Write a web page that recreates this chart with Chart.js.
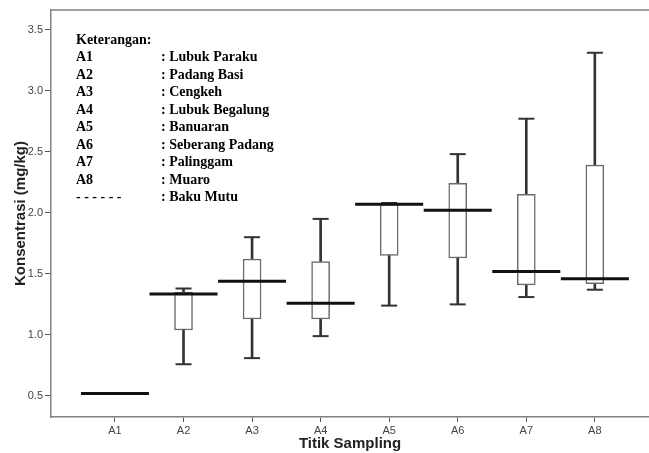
<!DOCTYPE html>
<html>
<head>
<meta charset="utf-8">
<script src="https://cdn.jsdelivr.net/npm/chart.js@4.4.0/dist/chart.umd.min.js"></script>
<style>
  html, body { margin: 0; padding: 0; background: #fff; }
  #wrap { width: 649px; height: 453px; }
</style>
</head>
<body>
<div id="wrap"><canvas id="myChart"></canvas></div>
<script>
// data
const categories = ['A1', 'A2', 'A3', 'A4', 'A5', 'A6', 'A7', 'A8'];
const xPos = [1, 2, 3, 4, 5, 6, 7, 8];
const whiskerMin = [null, 0.76, 0.81, 0.99, 1.24, 1.25, 1.31, 1.37];
const q1 = [null, 1.04, 1.13, 1.13, 1.65, 1.63, 1.41, 1.42];
const q3 = [null, 1.35, 1.62, 1.60, 2.07, 2.24, 2.15, 2.39];
const whiskerMax = [null, 1.38, 1.80, 1.95, 2.08, 2.48, 2.77, 3.31];
const garis = [0.52, 1.335, 1.44, 1.26, 2.07, 2.02, 1.52, 1.46];
const yTicks = [0.5, 1.0, 1.5, 2.0, 2.5, 3.0, 3.5];

const ketKode = ['A1', 'A2', 'A3', 'A4', 'A5', 'A6', 'A7', 'A8', '- - - - - -'];
const ketNama = [': Lubuk Paraku', ': Padang Basi', ': Cengkeh', ': Lubuk Begalung', ': Banuaran',
                 ': Seberang Padang', ': Palinggam', ': Muaro', ': Baku Mutu'];

function pts(arr) {
    return xPos.map((x, i) => arr[i] == null ? null : { x: x, y: arr[i] }).filter(p => p);
}
function ranges(a, b) {
    return xPos.map((x, i) => a[i] == null ? null : { x: x, y: [a[i], b[i]] }).filter(p => p);
}

// kotak keterangan + garis atas bingkai
const keteranganPlugin = {
    id: 'keterangan',
    afterDraw(chart) {
        const ctx = chart.ctx;
        const area = chart.chartArea;
        ctx.save();
        ctx.strokeStyle = '#808080';
        ctx.lineWidth = 1.5;
        ctx.beginPath();
        ctx.moveTo(area.left, area.top);
        ctx.lineTo(area.right, area.top);
        ctx.stroke();

        ctx.fillStyle = '#000';
        ctx.font = 'bold 14px "Liberation Serif", "Times New Roman", serif';
        ctx.textBaseline = 'middle';
        ctx.fillText('Keterangan:', 76, 40);
        for (let i = 0; i < ketKode.length; i++) {
            const y = 57.5 + i * 17.5;
            ctx.fillText(ketKode[i], 76, y);
            ctx.fillText(ketNama[i], 161, y);
        }
        ctx.restore();
    }
};

const ctx = document.getElementById('myChart').getContext('2d');
new Chart(ctx, {
    type: 'bar',
    data: {
        datasets: [
            {
                type: 'scatter',
                label: 'garis',
                data: pts(garis),
                pointStyle: 'line',
                pointRadius: 34,
                borderColor: '#111',
                borderWidth: 3,
                order: 0
            },
            {
                label: 'kotak',
                data: ranges(q1, q3),
                backgroundColor: '#fff',
                borderColor: '#6a6a6a',
                borderWidth: 1.5,
                borderSkipped: false,
                barThickness: 18,
                grouped: false,
                order: 1
            },
            {
                type: 'scatter',
                label: 'ujung',
                data: pts(whiskerMin).concat(pts(whiskerMax)),
                pointStyle: 'line',
                pointRadius: 8,
                borderColor: '#333',
                borderWidth: 2,
                order: 2
            },
            {
                label: 'whisker',
                data: ranges(whiskerMin, whiskerMax),
                backgroundColor: '#333',
                borderWidth: 0,
                barThickness: 2,
                grouped: false,
                order: 3
            }
        ]
    },
    options: {
        responsive: true,
        maintainAspectRatio: false,
        animation: false,
        layout: { autoPadding: false, padding: { top: 10, left: 0, right: 0, bottom: 0 } },
        plugins: {
            legend: { display: false },
            tooltip: { enabled: false }
        },
        scales: {
            x: {
                type: 'linear',
                offset: false,
                min: 0.067,
                max: 8.79,
                afterBuildTicks: s => { s.ticks = xPos.map(v => ({ value: v })); },
                afterFit: s => { s.height = 36; },
                ticks: {
                    callback: (v, i) => categories[i],
                    color: '#444',
                    font: { family: '"Liberation Sans", Arial, sans-serif', size: 11 },
                    padding: 2,
                    maxRotation: 0
                },
                grid: { display: true, offset: false, drawOnChartArea: false, tickLength: 5, color: '#555' },
                border: { display: true, color: '#808080', width: 1.5 },
                title: {
                    display: true,
                    text: 'Titik Sampling',
                    color: '#222',
                    font: { family: '"Liberation Sans", Arial, sans-serif', size: 15, weight: 'bold' },
                    padding: { top: 0, bottom: 0 }
                }
            },
            y: {
                min: 0.328,
                max: 3.66,
                afterBuildTicks: s => { s.ticks = yTicks.map(v => ({ value: v })); },
                afterFit: s => { s.width = 51; },
                ticks: {
                    callback: v => v.toFixed(1),
                    color: '#444',
                    font: { family: '"Liberation Sans", Arial, sans-serif', size: 11 },
                    padding: 2
                },
                grid: { display: true, drawOnChartArea: false, tickLength: 6, color: '#555' },
                border: { display: true, color: '#808080', width: 1.5 },
                title: {
                    display: true,
                    text: 'Konsentrasi (mg/kg)',
                    color: '#222',
                    font: { family: '"Liberation Sans", Arial, sans-serif', size: 15, weight: 'bold' },
                    padding: { top: 12, bottom: 0 }
                }
            }
        }
    },
    plugins: [keteranganPlugin]
});
</script>
</body>
</html>
